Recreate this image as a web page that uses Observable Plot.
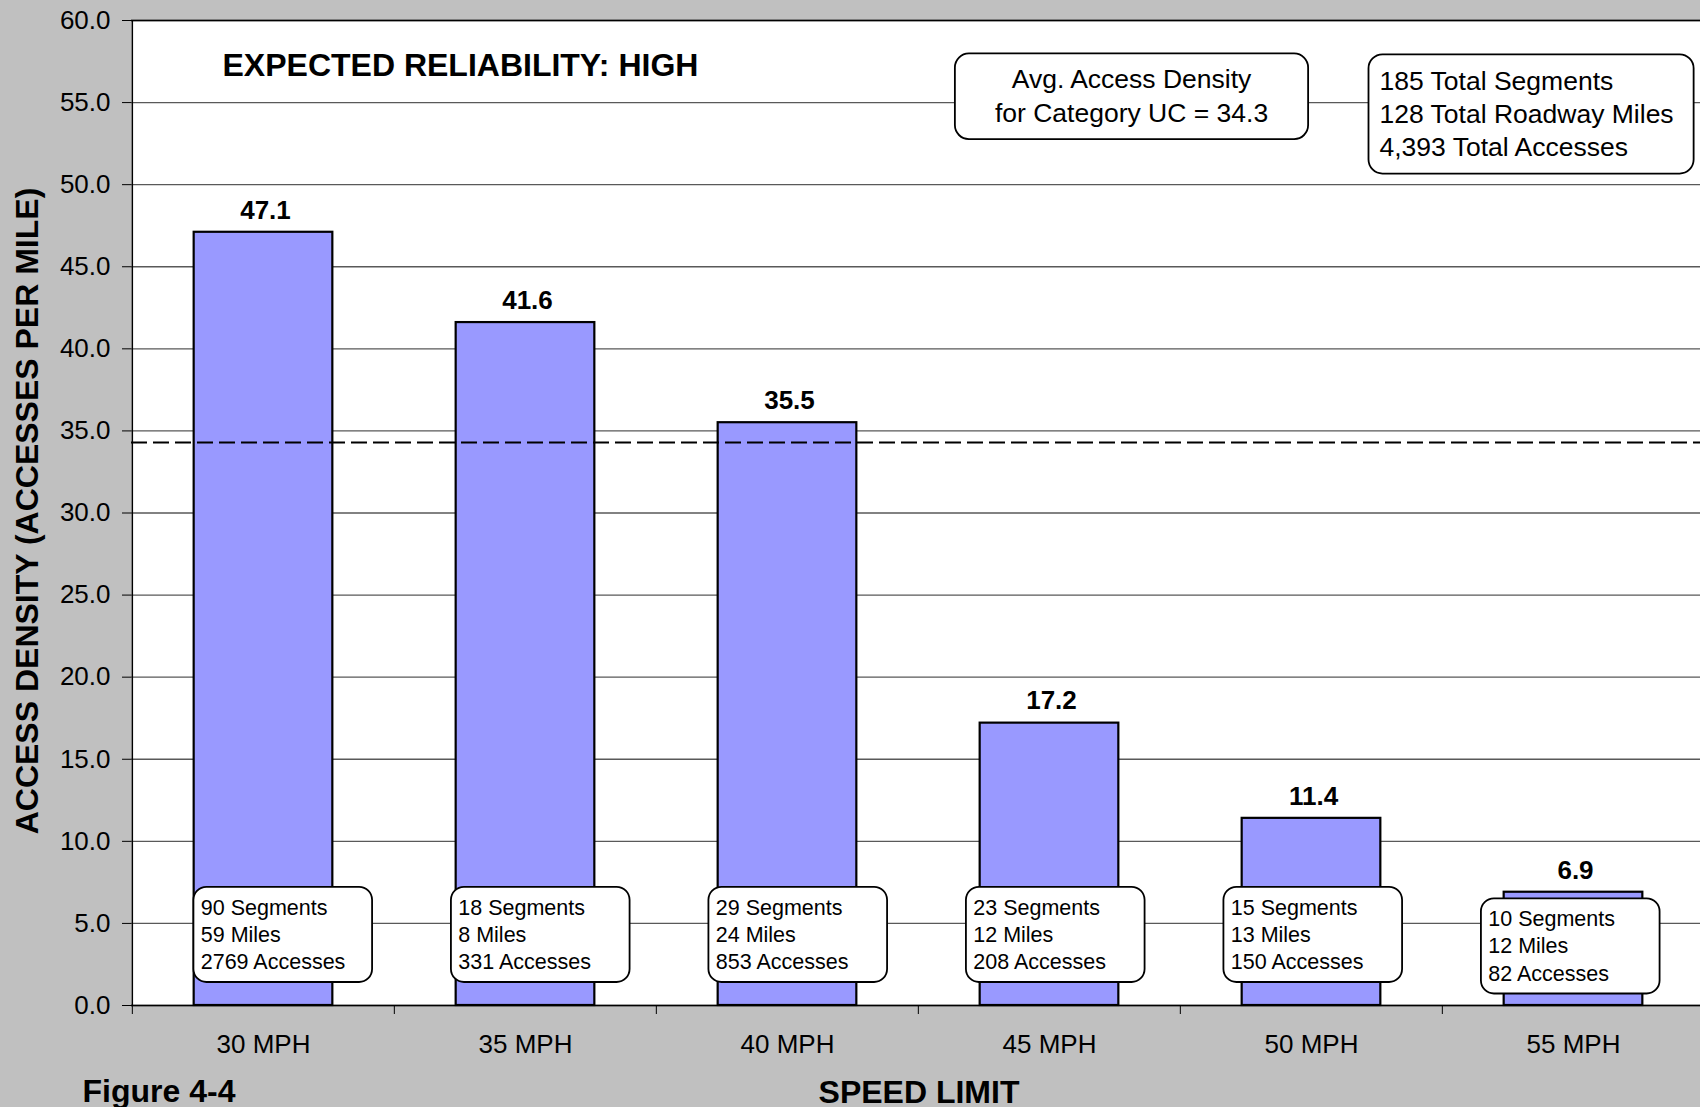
<!DOCTYPE html>
<html>
<head>
<meta charset="utf-8">
<script src="https://cdn.jsdelivr.net/npm/d3@7"></script>
<script src="https://cdn.jsdelivr.net/npm/@observablehq/plot@0.6"></script>
<style>
  html, body { margin: 0; padding: 0; background: #c0c0c0; overflow: hidden; }
  #chart svg { display: block; }
</style>
</head>
<body>
<div id="chart"></div>
<script>
// Access density by posted speed limit, category UC
const speeds = ["30 MPH", "35 MPH", "40 MPH", "45 MPH", "50 MPH", "55 MPH"];
const density = [47.1, 41.6, 35.5, 17.2, 11.4, 6.9];
const segments = [90, 18, 29, 23, 15, 10];
const miles = [59, 8, 24, 12, 13, 12];
const accesses = [2769, 331, 853, 208, 150, 82];

const avgDensity = 34.3;
const totalSegments = 185;
const totalMiles = 128;
const totalAccesses = 4393;

const yTicks = [0, 5, 10, 15, 20, 25, 30, 35, 40, 45, 50, 55, 60];

const titleText = "EXPECTED RELIABILITY: HIGH";
const yLabel = "ACCESS DENSITY (ACCESSES PER MILE)";
const xLabel = "SPEED LIMIT";
const figureLabel = "Figure 4-4";

// ---- layout ----
const W = 1700, H = 1107;
const mL = 131, mR = 0, mT = 20, mB = 102;
const xRange = [mL, 1705];
const step = (xRange[1] - xRange[0]) / speeds.length;
const font = '"Liberation Sans", Arial, Helvetica, sans-serif';

const rows = speeds.map((s, i) => ({
  speed: s,
  density: density[i],
  segments: segments[i],
  miles: miles[i],
  accesses: accesses[i]
}));

// callout boxes sit near the base of each bar
const boxTop = d => Math.min(7.2, d.density - 0.4);
const boxBottom = d => boxTop(d) - 5.8;
const boxShift = i => -4.5 * (i - (speeds.length - 1) / 2);
const boxLeft = 81, boxRight = 98;

const avgNote = `Avg. Access Density\nfor Category UC = ${avgDensity}`;
const totalsNote = `${totalSegments} Total Segments\n${totalMiles} Total Roadway Miles\n${d3.format(",")(totalAccesses)} Total Accesses`;

const chart = Plot.plot({
  width: W,
  height: H,
  marginLeft: mL,
  marginRight: mR,
  marginTop: mT,
  marginBottom: mB,
  style: { background: "#c0c0c0", fontFamily: font, color: "#000", overflow: "visible" },
  x: { type: "band", domain: speeds, range: xRange, padding: 0, label: null },
  y: { domain: [0, 60], label: null },
  marks: [
    Plot.frame({ fill: "white", stroke: null }),
    Plot.gridY(yTicks, { stroke: "#595959", strokeOpacity: 1, strokeWidth: 1.3 }),
    Plot.barY(rows, {
      x: "speed", y: "density",
      fill: "#9999ff", stroke: "#000", strokeWidth: 2.2,
      insetLeft: step / 2 - 69.5, insetRight: step / 2 - 69.5
    }),
    Plot.ruleY([avgDensity], { stroke: "#000", strokeWidth: 2, strokeDasharray: "16,6" }),
    // plot border lines
    Plot.ruleY([60], { stroke: "#000", strokeWidth: 1.5 }),
    Plot.ruleY([0], { stroke: "#000", strokeWidth: 1.5 }),
    Plot.ruleX([speeds[0]], { stroke: "#000", strokeWidth: 1.5, dx: -step / 2 }),
    // axes
    Plot.axisY(yTicks, {
      tickSize: 9, tickPadding: 12, tickFormat: d => d.toFixed(1),
      fontSize: 26, stroke: "#000", label: null
    }),
    Plot.axisX({ tickSize: 9, tickFormat: () => "", dx: -step / 2, stroke: "#000", label: null }),
    Plot.axisX({ tickSize: 0, tickPadding: 29, fontSize: 26, label: null }),
    // value labels
    Plot.text(rows, {
      x: "speed", y: "density", text: d => d.density.toFixed(1),
      dy: -22, dx: 2, fontSize: 26, fontWeight: "bold"
    }),
    // per-bar callouts
    ...rows.map((d, i) => Plot.barY([d], {
      x: "speed", y1: boxBottom, y2: boxTop,
      insetLeft: step / 2 - boxLeft, insetRight: step / 2 - boxRight,
      dx: boxShift(i), rx: 13, ry: 13,
      fill: "white", stroke: "#000", strokeWidth: 1.8
    })),
    ...rows.map((d, i) => Plot.text([d], {
      x: "speed", y: boxTop,
      text: r => `${r.segments} Segments\n${r.miles} Miles\n${r.accesses} Accesses`,
      textAnchor: "start", lineAnchor: "top", lineHeight: 1.27, fontSize: 21.5,
      dx: -boxLeft + 7 + boxShift(i), dy: 8
    })),
    // notes in the upper part of the frame
    Plot.text([titleText], {
      text: d => d, frameAnchor: "top-left", dx: 91, dy: 45,
      textAnchor: "start", lineAnchor: "middle", fontSize: 32, fontWeight: "bold"
    }),
    Plot.text([avgNote], {
      text: d => d, frameAnchor: "top-left", dx: 1000, dy: 74,
      textAnchor: "middle", lineAnchor: "middle", fontSize: 26.5, lineHeight: 1.27
    }),
    Plot.text([totalsNote], {
      text: d => d, frameAnchor: "top-left", dx: 1248, dy: 92,
      textAnchor: "start", lineAnchor: "middle", fontSize: 26.5, lineHeight: 1.23
    }),
    // axis titles and figure number
    Plot.text([yLabel], {
      text: d => d, frameAnchor: "left", dx: -104, dy: -2, rotate: -90,
      textAnchor: "middle", lineAnchor: "middle", fontSize: 32, fontWeight: "bold"
    }),
    Plot.text([xLabel], {
      text: d => d, frameAnchor: "bottom", dy: 87, dx: 3,
      textAnchor: "middle", lineAnchor: "middle", fontSize: 32, fontWeight: "bold"
    }),
    Plot.text([figureLabel], {
      text: d => d, frameAnchor: "bottom-left", dx: -49, dy: 86,
      textAnchor: "start", lineAnchor: "middle", fontSize: 32, fontWeight: "bold"
    })
  ]
});

document.getElementById("chart").append(chart);

// rounded frames behind the two note blocks
function frameNote(startsWith, padL, padR, padY) {
  const node = Array.from(chart.querySelectorAll("text"))
    .find(t => t.textContent.startsWith(startsWith));
  if (!node) return;
  const b = node.getBBox();
  d3.select(node.parentNode).insert("rect", () => node)
    .attr("transform", node.getAttribute("transform"))
    .attr("x", b.x - padL)
    .attr("y", b.y - padY)
    .attr("width", b.width + padL + padR)
    .attr("height", b.height + 2 * padY)
    .attr("rx", 14)
    .attr("ry", 14)
    .attr("fill", "white")
    .attr("stroke", "#000")
    .attr("stroke-width", 1.8);
}
frameNote("Avg.", 40, 40, 11);
frameNote(String(totalSegments), 11, 20, 12);
</script>
</body>
</html>
